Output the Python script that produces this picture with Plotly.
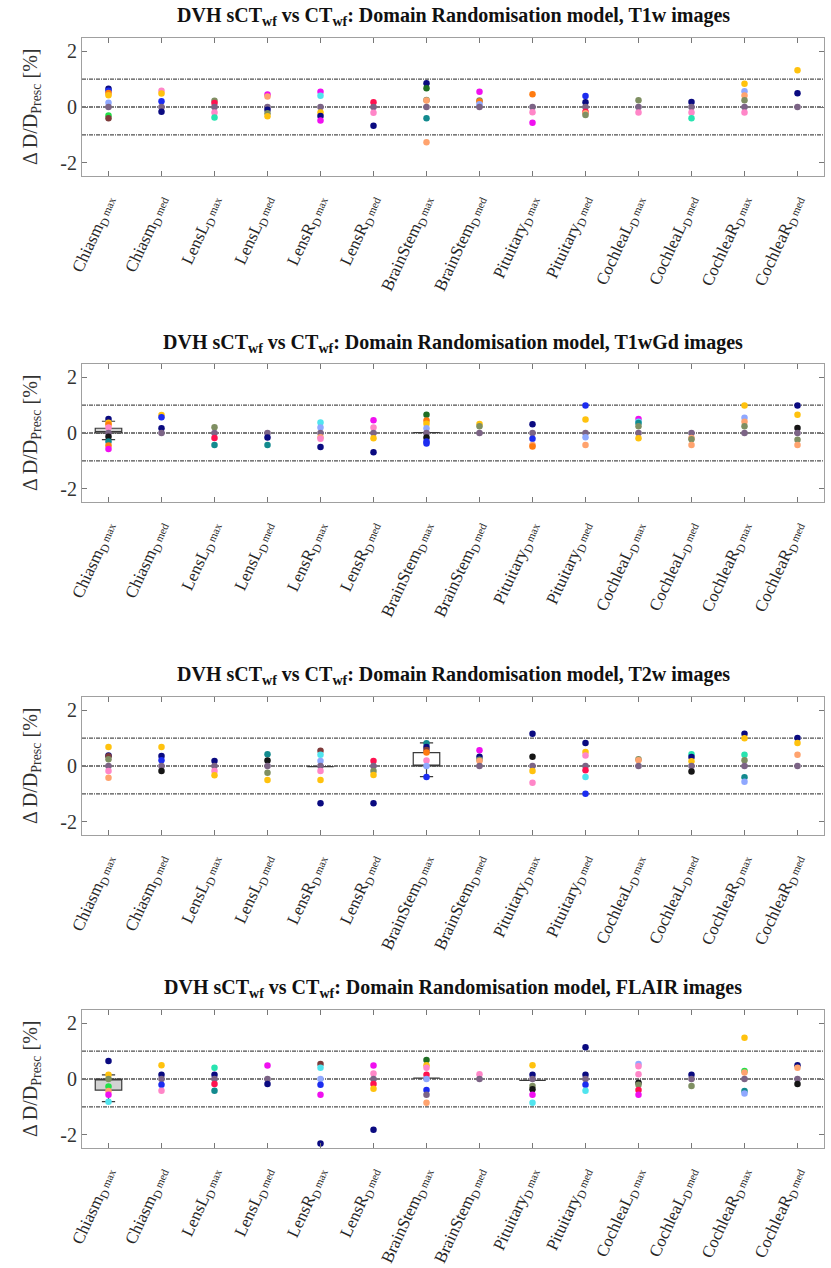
import plotly.graph_objects as go

# ---------------- data ----------------
organs = ["Chiasm", "Chiasm", "LensL", "LensL", "LensR", "LensR", "BrainStem", "BrainStem",
          "Pituitary", "Pituitary", "CochleaL", "CochleaL", "CochleaR", "CochleaR"]
metrics = ["max", "med"] * 7
modalities = ["T1w", "T1wGd", "T2w", "FLAIR"]
yticks = [-2, 0, 2]
ref_lines = [-1, 0, 1]

palette = {
    "navy": "#0a0a80", "blue": "#1c2cf0", "gold": "#ffc20e", "orange": "#ff7b10",
    "peach": "#ffa36e", "pink": "#ff86c8", "magenta": "#f010f0", "red": "#ff1250",
    "lightblue": "#8fa8ff", "cyan": "#50e4ee", "aqua": "#28e4b0", "teal": "#128a8e",
    "green": "#22e048", "darkgreen": "#1f6e24", "olive": "#7f8f62", "purple": "#7c6486",
    "black": "#151515", "darkred": "#7e3a3a",
}

t1w_vals = [
    [0.65, 0.58, 0.5, 0.42, 0.15, 0, -0.3, -0.4],
    [0.58, 0.48, 0.21, 0, -0.17],
    [0.22, 0.14, 0, -0.2, -0.38],
    [0.45, 0.38, 0, -0.1, -0.22, -0.33],
    [0.55, 0.4, 0, -0.2, -0.32, -0.48],
    [0.17, 0, -0.21, -0.67],
    [0.85, 0.67, 0.25, 0.23, 0, -0.4, -1.26],
    [0.55, 0.23, 0.2, 0.1, 0],
    [0.46, 0, -0.19, -0.56],
    [0.39, 0.17, 0, -0.17, -0.22, -0.29],
    [0.24, 0, -0.2],
    [0.18, 0, -0.2, -0.4],
    [0.83, 0.56, 0.41, 0.24, 0, -0.2],
    [1.32, 0.49, 0],
]
t1w_cols = [
    ["navy", "blue", "orange", "gold", "lightblue", "purple", "green", "darkred"],
    ["pink", "gold", "blue", "purple", "navy"],
    ["olive", "red", "purple", "pink", "aqua"],
    ["magenta", "peach", "purple", "navy", "olive", "gold"],
    ["magenta", "cyan", "purple", "gold", "navy", "magenta"],
    ["red", "purple", "pink", "navy"],
    ["navy", "darkgreen", "olive", "peach", "purple", "teal", "peach"],
    ["magenta", "olive", "orange", "lightblue", "purple"],
    ["orange", "purple", "pink", "magenta"],
    ["blue", "navy", "purple", "red", "peach", "olive"],
    ["olive", "purple", "pink"],
    ["navy", "purple", "pink", "aqua"],
    ["gold", "lightblue", "peach", "olive", "purple", "pink"],
    ["gold", "navy", "purple"],
]

t1wgd_vals = [
    [0.5, 0.37, 0.3, 0.2, 0, -0.13, -0.3, -0.45, -0.57],
    [0.64, 0.56, 0.17, 0],
    [0.21, 0, -0.18, -0.43],
    [0, -0.16, -0.43],
    [0.38, 0.2, 0, -0.15, -0.21, -0.5],
    [0.46, 0.2, 0, -0.19, -0.69],
    [0.65, 0.45, 0.33, 0.17, 0, -0.16, -0.3, -0.38],
    [0.32, 0.24, 0],
    [0.31, 0, -0.21, -0.43, -0.48],
    [0.98, 0.48, 0, -0.15, -0.43],
    [0.5, 0.4, 0.36, 0.24, 0, -0.19],
    [0, -0.18, -0.22, -0.43],
    [0.98, 0.55, 0.4, 0.24, 0],
    [0.98, 0.65, 0.18, 0, -0.24, -0.43],
]
t1wgd_cols = [
    ["navy", "gold", "orange", "pink", "purple", "black", "teal", "orange", "magenta"],
    ["gold", "blue", "navy", "purple"],
    ["olive", "purple", "red", "teal"],
    ["purple", "navy", "teal"],
    ["cyan", "lightblue", "purple", "peach", "pink", "navy"],
    ["magenta", "pink", "purple", "gold", "navy"],
    ["darkgreen", "orange", "gold", "lightblue", "purple", "black", "blue", "blue"],
    ["gold", "olive", "purple"],
    ["navy", "purple", "blue", "peach", "orange"],
    ["blue", "gold", "purple", "lightblue", "peach"],
    ["magenta", "cyan", "teal", "olive", "purple", "gold"],
    ["purple", "peach", "olive", "peach"],
    ["gold", "lightblue", "peach", "olive", "purple"],
    ["navy", "gold", "black", "purple", "olive", "peach"],
]

t2w_vals = [
    [0.68, 0.38, 0.35, 0.24, 0, -0.18, -0.42],
    [0.68, 0.36, 0.21, 0, -0.18],
    [0.18, 0, -0.18, -0.33],
    [0.42, 0.2, 0, -0.24, -0.5],
    [0.55, 0.4, 0.18, 0, -0.18, -0.5, -1.33],
    [0.18, 0, -0.18, -0.32, -1.33],
    [0.81, 0.68, 0.57, 0.48, 0.2, 0, -0.39],
    [0.56, 0.33, 0.22, 0.18, 0],
    [1.15, 0.33, 0, -0.18, -0.6],
    [0.82, 0.5, 0.38, 0, -0.15, -0.39, -0.99],
    [0.24, 0.21, 0],
    [0.42, 0.32, 0.17, 0, -0.2],
    [1.15, 0.99, 0.4, 0.21, 0, -0.4, -0.56],
    [1.0, 0.82, 0.4, 0],
]
t2w_cols = [
    ["gold", "navy", "darkred", "olive", "purple", "pink", "peach"],
    ["gold", "navy", "blue", "purple", "black"],
    ["navy", "purple", "pink", "gold"],
    ["teal", "black", "purple", "olive", "gold"],
    ["darkred", "cyan", "lightblue", "purple", "pink", "gold", "navy"],
    ["red", "purple", "olive", "gold", "navy"],
    ["teal", "navy", "darkred", "orange", "pink", "lightblue", "blue"],
    ["magenta", "navy", "olive", "peach", "purple"],
    ["navy", "black", "purple", "gold", "pink"],
    ["navy", "gold", "pink", "purple", "red", "cyan", "blue"],
    ["olive", "peach", "purple"],
    ["aqua", "navy", "gold", "purple", "black"],
    ["navy", "gold", "aqua", "olive", "purple", "teal", "lightblue"],
    ["navy", "gold", "peach", "purple"],
]

flair_vals = [
    [0.64, 0.15, 0, -0.27, -0.43, -0.56, -0.81],
    [0.49, 0.15, 0, -0.21, -0.42],
    [0.4, 0.15, 0, -0.18, -0.42],
    [0.48, 0, -0.18],
    [0.54, 0.4, 0, -0.21, -0.56, -2.31],
    [0.48, 0.2, 0, -0.18, -0.35, -1.82],
    [0.68, 0.49, 0.4, 0.15, 0, -0.39, -0.56, -0.85],
    [0.17, 0],
    [0.49, 0.15, 0, -0.25, -0.37, -0.56, -0.85],
    [1.14, 0.15, 0, -0.21, -0.42],
    [0.54, 0.46, 0.17, -0.13, -0.21, -0.39, -0.56],
    [0.15, 0, -0.25],
    [1.48, 0.29, 0.23, 0, -0.43, -0.52],
    [0.49, 0.4, 0, -0.18],
]
flair_cols = [
    ["navy", "gold", "olive", "green", "peach", "magenta", "cyan"],
    ["gold", "navy", "purple", "blue", "pink"],
    ["aqua", "navy", "purple", "red", "teal"],
    ["magenta", "purple", "navy"],
    ["darkred", "cyan", "lightblue", "blue", "magenta", "navy"],
    ["magenta", "pink", "purple", "red", "gold", "navy"],
    ["darkgreen", "gold", "pink", "red", "lightblue", "blue", "purple", "peach"],
    ["pink", "purple"],
    ["gold", "navy", "purple", "olive", "black", "magenta", "cyan"],
    ["navy", "navy", "purple", "blue", "cyan"],
    ["lightblue", "pink", "pink", "black", "olive", "red", "magenta"],
    ["navy", "purple", "olive"],
    ["gold", "green", "peach", "purple", "teal", "lightblue"],
    ["navy", "peach", "purple", "black"],
]

# box statistics (category index, q1, median, q3, lower fence, upper fence)
t1w_box = {"x": [], "q1": [], "med": [], "q3": [], "lo": [], "hi": []}
t1wgd_box = {"x": [1, 7], "q1": [0, 0.01], "med": [0.05, 0.01], "q3": [0.17, 0.01],
             "lo": [-0.24, 0.01], "hi": [0.42, 0.01]}
t2w_box = {"x": [5, 7], "q1": [-0.02, 0], "med": [-0.02, 0], "q3": [-0.02, 0.48],
           "lo": [-0.02, -0.38], "hi": [-0.02, 0.83]}
flair_box = {"x": [1, 7, 9], "q1": [-0.4, 0.03, -0.05], "med": [0, 0.03, -0.05],
             "q3": [0, 0.03, -0.05], "lo": [-0.81, 0.03, -0.05], "hi": [0.15, 0.03, -0.05]}
box_fill = ["rgba(0,0,0,0)", "#d2d2d2", "#ffffff", "#d2d2d2"]

all_vals = [t1w_vals, t1wgd_vals, t2w_vals, flair_vals]
all_cols = [t1w_cols, t1wgd_cols, t2w_cols, flair_cols]
all_boxes = [t1w_box, t1wgd_box, t2w_box, flair_box]

# ---------------- layout geometry (pixels) ----------------
W, H = 831, 1268
x_left, x_right = 82, 824
panel_tops = [38, 364, 697, 1010]
panel_h = 138
title_y = [16, 343, 675, 988]

serif = "Liberation Serif"
ticktext = [f"{o}<sub>D</sub><span style='font-size:11px'>\u2009{m}</span>"
            for o, m in zip(organs, metrics)]
tickvals = list(range(1, 15))

fig = go.Figure()
layout = dict(
    width=W, height=H, margin=dict(l=0, r=0, t=0, b=0, autoexpand=False),
    paper_bgcolor="white", plot_bgcolor="white", showlegend=False,
    font=dict(family=serif, color="#222222"),
)
shapes = []
annotations = []

for i in range(4):
    sfx = "" if i == 0 else str(i + 1)
    xa, ya = "x" + sfx, "y" + sfx
    top = panel_tops[i]
    y0 = 1 - (top + panel_h) / H
    y1 = 1 - top / H
    layout["xaxis" + sfx] = dict(
        domain=[x_left / W, x_right / W], range=[0.5, 14.5], anchor=ya, automargin=False,
        tickmode="array", tickvals=tickvals, ticktext=ticktext, tickangle=-65,
        ticks="inside", ticklen=5, tickcolor="#777777", mirror="ticks", ticklabelstandoff=7,
        showline=True, linecolor="#a0a0a0", linewidth=1, showgrid=False, zeroline=False,
        tickfont=dict(family=serif, size=17, color="#262626"),
    )
    layout["yaxis" + sfx] = dict(
        domain=[y0, y1], range=[-2.47, 2.47], anchor=xa, automargin=False,
        tickmode="array", tickvals=yticks, ticktext=[str(v) for v in yticks],
        ticks="inside", ticklen=5, tickcolor="#777777", mirror="ticks",
        showline=True, linecolor="#a0a0a0", linewidth=1, showgrid=False, zeroline=False,
        tickfont=dict(family=serif, size=20, color="#333333"),
    )
    # reference lines
    for v in ref_lines:
        shapes.append(dict(type="line", xref=xa + " domain", yref=ya, x0=0, x1=1, y0=v, y1=v,
                           line=dict(color="#505050", width=1.3, dash="4px,1px,1px,1px"),
                           layer="below"))
    # boxes
    b = all_boxes[i]
    if b["x"]:
        fig.add_trace(go.Box(
            x=b["x"], q1=b["q1"], median=b["med"], q3=b["q3"],
            lowerfence=b["lo"], upperfence=b["hi"], width=0.5, whiskerwidth=0.5,
            fillcolor=box_fill[i], line=dict(color="#3a3a3a", width=1.2),
            boxpoints=False, xaxis=xa, yaxis=ya, hoverinfo="skip",
        ))
    # points
    for c in range(14):
        vals = all_vals[i][c]
        cols = [palette[k] for k in all_cols[i][c]]
        fig.add_trace(go.Scatter(
            x=[c + 1] * len(vals), y=vals, mode="markers",
            marker=dict(size=6.5, color=cols, line=dict(width=0)),
            xaxis=xa, yaxis=ya, hoverinfo="skip",
        ))
    # title
    annotations.append(dict(
        text=f"<b>DVH sCT<sub>wf</sub> vs CT<sub>wf</sub>: Domain Randomisation model, {modalities[i]} images</b>",
        xref="paper", yref="paper", x=(x_left + x_right) / 2 / W, y=1 - title_y[i] / H,
        xanchor="center", yanchor="middle", showarrow=False,
        font=dict(family=serif, size=20, color="#111111"),
    ))
    # y axis title
    annotations.append(dict(
        text="\u0394 D/D<sub>Presc</sub> [%]", textangle=-90,
        xref="paper", yref="paper", x=31 / W, y=1 - (top + panel_h / 2) / H,
        xanchor="center", yanchor="middle", showarrow=False,
        font=dict(family=serif, size=20, color="#333333"),
    ))

layout["shapes"] = shapes
layout["annotations"] = annotations
fig.update_layout(**layout)
fig.write_html("out.html")
